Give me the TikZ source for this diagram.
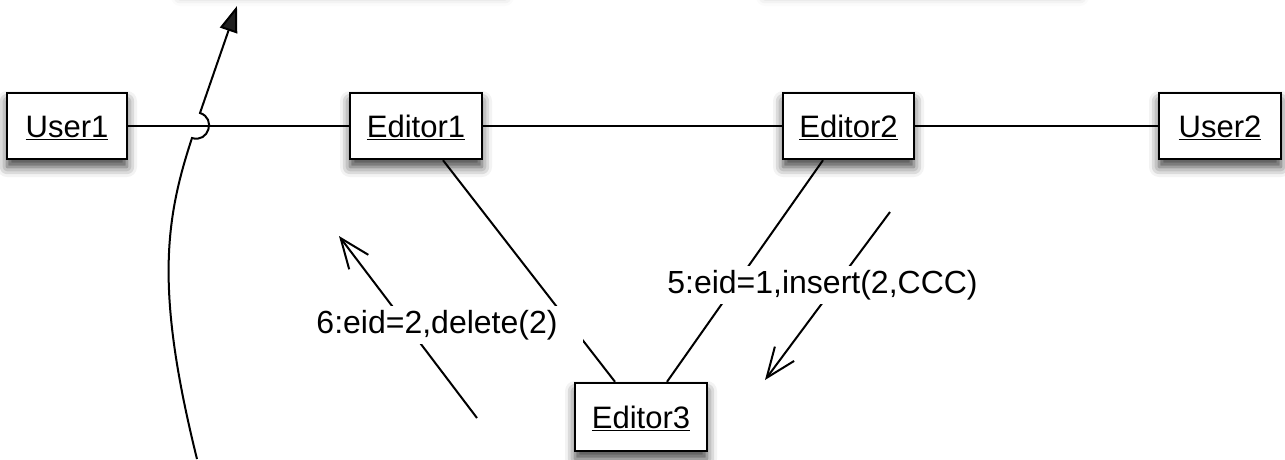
\documentclass[tikz,border=0pt]{standalone}
\usepackage{fontspec}
\setmainfont{Liberation Sans}
\usetikzlibrary{arrows.meta,shadows.blur}
\begin{document}
\begin{tikzpicture}[x=1pt,y=-1pt,
  shd/.style={blur shadow={shadow xshift=0pt, shadow yshift=-8pt, shadow blur radius=10pt, shadow opacity=75}},
  obj/.style={draw, line width=2.4pt, fill=white, minimum height=66pt, inner sep=0pt,
    font=\fontsize{31}{36}\selectfont, text height=22pt, text depth=0pt, shd},
  conn/.style={line width=2pt},
  msg/.style={fill=white, inner xsep=25pt, inner ysep=4pt, font=\fontsize{32}{38}\selectfont},
  msgarrow/.style={line width=2pt, -{Straight Barb[length=30pt,width=24pt,line width=2pt]}}]
\useasboundingbox (0,0) rectangle (1285,459);
% faint shadows of objects above the visible area
\path[fill=white, blur shadow={shadow xshift=0pt, shadow yshift=-7pt, shadow blur radius=9pt, shadow opacity=25}] (180,-80) rectangle (505,-10);
\path[fill=white, blur shadow={shadow xshift=0pt, shadow yshift=-7pt, shadow blur radius=9pt, shadow opacity=25}] (765,-80) rectangle (1080,-10);
% objects
\node[obj, minimum width=120pt] (u1) at (67,126) {\underline{User1}};
\node[obj, minimum width=132pt] (e1) at (416,126) {\underline{Editor1}};
\node[obj, minimum width=131pt] (e2) at (848.5,126) {\underline{Editor2}};
\node[obj, minimum width=122pt] (u2) at (1220,126) {\underline{User2}};
\node[obj, minimum width=132pt, minimum height=68pt] (e3) at (641,417) {\underline{Editor3}};
% links
\draw[conn] (u1) -- (e1);
\draw[conn] (e1) -- (e2);
\draw[conn] (e2) -- (u2);
\draw[conn] ([xshift=27pt]e1.south) -- ([xshift=-26pt]e3.north);
\draw[conn] ([xshift=-25.5pt]e2.south) -- ([xshift=26pt]e3.north);
% crossing flow
\coordinate (cs) at (197,459);
\coordinate (ce) at (237,6);
\draw[conn, -{Triangle[length=26pt,width=18pt]}] (cs) .. controls (155,290) and (165,220) .. (192,138)
  .. controls (208.5,143.3) and (216.5,118.3) .. (200,113) -- (ce);
% messages
\coordinate (a6s) at (477,418);
\coordinate (a6e) at (339,236);
\draw[msgarrow] (a6s) -- (a6e);
\coordinate (a5s) at (890,212);
\coordinate (a5e) at (765,380);
\draw[msgarrow] (a5s) -- (a5e);
\node[msg, anchor=base] (m6) at (437,333) {6:eid=2,delete(2)};
\node[msg, anchor=base] (m5) at (822.5,293) {5:eid=1,insert(2,CCC)};
\end{tikzpicture}
\end{document}
